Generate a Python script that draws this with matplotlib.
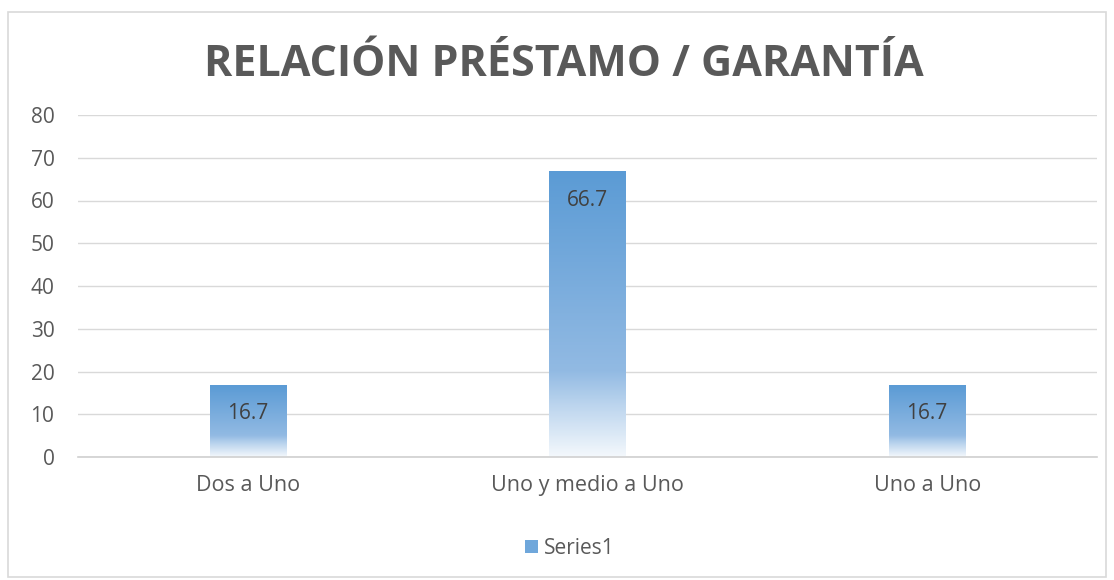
import numpy as np
import matplotlib.pyplot as plt
from matplotlib.colors import LinearSegmentedColormap
from matplotlib.patches import Rectangle

categories = ["Dos a Uno", "Uno y medio a Uno", "Uno a Uno"]
values = [16.7, 66.7, 16.7]
y_ticks = [0, 10, 20, 30, 40, 50, 60, 70, 80]
title = "RELACIÓN PRÉSTAMO / GARANTÍA"
series_name = "Series1"

plt.rcParams['font.family'] = ['Open Sans', 'DejaVu Sans']

# gradient: white-ish at the bottom, blue at top
grad = LinearSegmentedColormap.from_list(
    "bar", [(0.0, "#F4F8FC"), (0.18, "#BCD5EE"), (0.3, "#92BAE3"), (1.0, "#5B9BD5")])

fig = plt.figure(figsize=(11.14, 5.8), dpi=100)
fig.patches.append(Rectangle((8 / 1114, 3 / 580), 1098 / 1114, 565 / 580,
                             transform=fig.transFigure, fill=False,
                             edgecolor="#D9D9D9", linewidth=1.2))

ax = fig.add_axes([78 / 1114, 1 - 457 / 580, 1019 / 1114, 342 / 580])

width = 0.225
ramp = np.linspace(0, 1, 256).reshape(-1, 1)
for i, v in enumerate(values):
    ax.imshow(ramp, cmap=grad, origin="lower", aspect="auto",
              extent=(i - width / 2, i + width / 2, 0, v), zorder=2)
    ax.text(i, v - 6.6, f"{v:.1f}", ha="center", va="center",
            fontsize=15, color="#404040", zorder=3)

ax.set_xlim(-0.5, 2.5)
ax.set_ylim(0, 80)
ax.set_yticks(y_ticks)
ax.set_xticks(range(len(categories)))
ax.set_xticklabels(categories)
ax.grid(axis="y", color="#D9D9D9", linewidth=1)
ax.set_axisbelow(True)
for s in ["top", "right", "left"]:
    ax.spines[s].set_visible(False)
ax.spines["bottom"].set_color("#D0D0D0")
ax.spines["bottom"].set_linewidth(1.2)
ax.tick_params(length=0, labelsize=15, colors="#595959")
ax.tick_params(axis="y", pad=17)
ax.tick_params(axis="x", pad=13, labelsize=15.5)

fig.text(564 / 1114, 1 - 65 / 580, title, ha="center", va="center",
         fontsize=31, fontweight="bold", color="#595959")

# legend
fig.patches.append(Rectangle((525 / 1114, 1 - 553 / 580), 13 / 1114, 13 / 580,
                             transform=fig.transFigure, facecolor="#6FA7DB",
                             edgecolor="none"))
fig.text(544 / 1114, 1 - 548 / 580, series_name, ha="left", va="center",
         fontsize=15, color="#595959")

fig.savefig("out.png", dpi=100)
